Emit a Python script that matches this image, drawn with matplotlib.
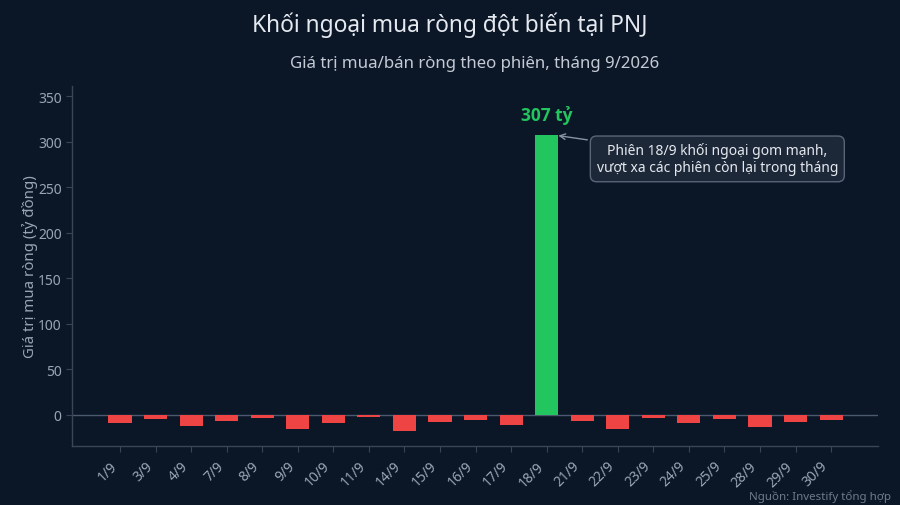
import matplotlib
matplotlib.use("Agg")
import matplotlib.pyplot as plt
from matplotlib import font_manager as fm

plt.rcParams['font.family'] = ['Noto Sans', 'DejaVu Sans']

sessions = ["1/9", "3/9", "4/9", "7/9", "8/9", "9/9", "10/9", "11/9", "14/9", "15/9",
            "16/9", "17/9", "18/9", "21/9", "22/9", "23/9", "24/9", "25/9", "28/9",
            "29/9", "30/9"]
net_values = [-8.5, -4.7, -12.8, -7.3, -3.7, -16.0, -9.5, -2.5, -18.3, -7.7,
              -6.2, -11.7, 307, -6.6, -15.4, -4.0, -9.5, -4.4, -13.2, -8.4, -5.5]

BG = "#0b1627"
TEXT = "#e5e9ef"
SUB = "#c3cad4"
TICK = "#9aa5b4"
SPINE = "#3a4658"
RED = "#ef4444"
GREEN = "#22c55e"

bold_family = 'DejaVu Sans'
for fam in ['Noto Sans', 'Open Sans', 'Roboto', 'Lato']:
    try:
        p = fm.findfont(fm.FontProperties(family=fam, weight='bold'), fallback_to_default=False)
        if 'bold' in p.lower():
            bold_family = fam
            break
    except Exception:
        pass

fig = plt.figure(figsize=(9, 5.06), dpi=100, facecolor=BG)
ax = fig.add_axes([0.08, 0.117, 0.8956, 0.711])
ax.set_facecolor(BG)

x = list(range(len(sessions)))
colors = [GREEN if v > 0 else RED for v in net_values]
ax.bar(x, net_values, width=0.65, color=colors, zorder=3)

ax.axhline(0, color="#4b5a6e", linewidth=1, zorder=2)

ax.set_xlim(-1.35, len(sessions) - 1 + 1.32)
ax.set_ylim(-34, 361)
ax.set_yticks([0, 50, 100, 150, 200, 250, 300, 350])
ax.set_xticks(x)
ax.set_xticklabels(sessions, rotation=45, ha="right")

for s in ["top", "right"]:
    ax.spines[s].set_visible(False)
for s in ["left", "bottom"]:
    ax.spines[s].set_color(SPINE)
    ax.spines[s].set_linewidth(1)
ax.tick_params(colors=TICK, labelsize=10, length=4, color=SPINE)
ax.tick_params(axis="x", pad=5)

ax.set_ylabel("Giá trị mua ròng (tỷ đồng)", color=TICK, fontsize=10.8, labelpad=0)
ax.set_title("Giá trị mua/bán ròng theo phiên, tháng 9/2026", color=SUB, fontsize=12.1, pad=14)
fig.suptitle("Khối ngoại mua ròng đột biến tại PNJ", color=TEXT, fontsize=16.4, y=0.975)

peak_i = max(range(len(net_values)), key=lambda i: net_values[i])
peak_v = net_values[peak_i]
ax.text(peak_i, peak_v + 12, f"{peak_v:.0f} tỷ", color=GREEN, fontsize=12.5,
        fontweight="bold", family=[bold_family, 'DejaVu Sans'], ha="center", va="bottom")
ax.annotate("Phiên 18/9 khối ngoại gom mạnh,\nvượt xa các phiên còn lại trong tháng",
            xy=(peak_i + 0.25, peak_v), xytext=(16.8, 281),
            color=TEXT, fontsize=10, ha="center", va="center",
            bbox=dict(boxstyle="round,pad=0.45", fc="#1c2738", ec="#5a6678", lw=1),
            arrowprops=dict(arrowstyle="->", color="#8893a3", lw=1), zorder=5)

fig.text(0.99, 0.006, "Nguồn: Investify tổng hợp", color="#6f7a8a", fontsize=8.3,
         ha="right", va="bottom")

fig.savefig("out.png", dpi=100, facecolor=BG)
